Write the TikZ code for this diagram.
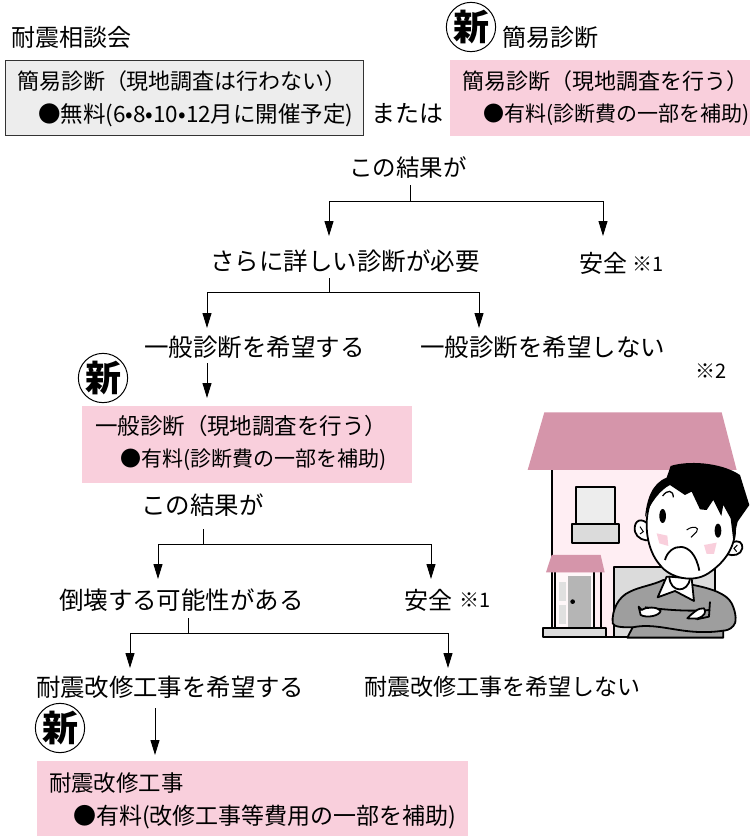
\documentclass[tikz,border=0pt]{standalone}
\usepackage{fontspec}
\setmainfont{Noto Sans CJK JP}
\definecolor{pinkbox}{HTML}{F9CFDC}
\definecolor{roofpink}{HTML}{D595AA}
\definecolor{wallpink}{HTML}{FFEEF3}
\usetikzlibrary{arrows.meta}
\tikzset{
 every node/.style={inner sep=0pt,outer sep=0pt,anchor=west,text=black},
 fs/.style={font=\fontsize{#1}{#1}\selectfont},
 pinkrect/.style={fill=pinkbox,draw=none},
 arr/.style={draw=black,line width=1pt,-{Stealth[length=15pt,width=9pt,inset=0pt]}},
 lin/.style={draw=black,line width=1pt},
 ln/.style={draw=black,line width=1.8pt,line join=round},
 newmark/.style={circle,draw=black,line width=1pt,minimum size=45pt,anchor=center,font=\fontsize{36}{36}\selectfont\bfseries},
}
\begin{document}
\begin{tikzpicture}[x=1pt,y=-1pt]
\useasboundingbox (0,0) rectangle (750,836);
\fill[white] (0,0) rectangle (750,836);
% boxes
\node[draw=black!80,fill=black!7,line width=1pt,minimum width=358pt,minimum height=75pt,anchor=north west] (b1) at (5,60) {};
\node[pinkrect,minimum width=300pt,minimum height=76pt,anchor=north west] (b2) at (450,60) {};
\node[pinkrect,minimum width=330pt,minimum height=77pt,anchor=north west] (b3) at (82,406) {};
\node[pinkrect,minimum width=431pt,minimum height=75pt,anchor=north west] (b4) at (37,761) {};
% titles
\node[fs=24] (t1) at (12,37) {耐震相談会};
\node[newmark] (n1) at (471,27) {新};
\node[fs=24] (t2) at (502,37) {簡易診断};
\node[fs=22] (b1a) at (17,81) {簡易診断（現地調査は行わない）};
\node[fs=22.5] (b1b) at (38,115) {●無料(6•8•10•12月に開催予定)};
\node[fs=24] (or) at (371,114) {または};
\node[fs=22] (b2a) at (462,81) {簡易診断（現地調査を行う）};
\node[fs=21] (b2b) at (483,115) {●有料(診断費の一部を補助)};
% flow texts
\node[fs=23.5] (r1) at (349,168) {この結果が};
\node[fs=24.5] (d1) at (210,261) {さらに詳しい診断が必要};
\node[fs=24] (s1) at (579,263) {安全};
\node[fs=20] (s1n) at (632,264) {※1};
\node[fs=24.5] (g1) at (144,347) {一般診断を希望する};
\node[fs=24.5] (g2) at (420,347) {一般診断を希望しない};
\node[fs=20] (n2) at (695,371) {※2};
\node[newmark] (n3) at (103,378) {新};
\node[fs=22.5] (b3a) at (95,426) {一般診断（現地調査を行う）};
\node[fs=21] (b3b) at (120,460) {●有料(診断費の一部を補助)};
\node[fs=24.5] (r2) at (141,505) {この結果が};
\node[fs=24.5] (c1) at (59,600) {倒壊する可能性がある};
\node[fs=24] (s2) at (404,600) {安全};
\node[fs=20] (s2n) at (459,600) {※1};
\node[fs=24.4] (k1) at (36,687) {耐震改修工事を希望する};
\node[fs=23] (k2) at (364,687) {耐震改修工事を希望しない};
\node[newmark] (n4) at (60,728) {新};
\node[fs=22.4] (b4a) at (49,783) {耐震改修工事};
\node[fs=23] (b4b) at (73,817) {●有料(改修工事等費用の一部を補助)};
% connectors
\draw[lin] (410,185) -- (410,201);
\draw[lin] (329,201) -- (603,201);
\draw[arr] (329,201) -- (329,236);
\draw[arr] (603,201) -- (603,236);
\draw[lin] (329,278) -- (329,292);
\draw[lin] (207,292) -- (479,292);
\draw[arr] (207,292) -- (207,328);
\draw[arr] (479,292) -- (479,328);
\draw[arr] (207,363) -- (207,398);
\draw[lin] (203,529) -- (203,544);
\draw[lin] (158,544) -- (431,544);
\draw[arr] (158,544) -- (158,579);
\draw[arr] (431,544) -- (431,579);
\draw[lin] (188,618) -- (188,633);
\draw[lin] (130,633) -- (448,633);
\draw[arr] (130,633) -- (130,668);
\draw[arr] (448,633) -- (448,668);
\draw[arr] (155,708) -- (155,755);
% house and man, in coordinates of a 3x crop
\begin{scope}[shift={(510,390)},x=0.3333pt,y=-0.3333pt]
\fill[wallpink] (125,240) rectangle (615,740);
\draw[ln] (125,240) -- (125,720);
\draw[ln] (100,741) -- (640,741);
\fill[roofpink] (103,67) -- (635,67) -- (680,240) -- (53,240) -- cycle;
\draw[ln,fill=black!7] (198,290) rectangle (316,402);
\draw[ln,fill=black!14] (186,402) rectangle (328,460);
\draw[ln,fill=black!14] (313,532) rectangle (616,741);
% door
\fill[wallpink!50!white] (135,548) rectangle (250,712);
\fill[black!29] (175,558) rectangle (243,712);
\fill[black!12] (148,577) rectangle (168,632);
\fill[black!12] (148,645) rectangle (168,702);
\fill[black] (188,635) circle (7);
\draw[ln] (125,547) -- (125,712);
\draw[ln] (136,547) -- (136,712);
\draw[ln] (252,547) -- (252,712);
\draw[ln] (274,547) -- (274,712);
\fill[roofpink] (125,495) -- (272,495) -- (284,547) -- (108,547) -- cycle;
\draw[ln,fill=black!14] (100,714) rectangle (288,742);
% sweater
\draw[ln,fill=black!38] (352,743) -- (368,712) .. controls (340,712) and (312,712) .. (308,700)
  .. controls (305,660) and (325,620) .. (360,605) .. controls (390,590) and (430,585) .. (460,570)
  -- (550,585) .. controls (600,595) and (650,610) .. (665,640) .. controls (680,670) and (680,700) .. (670,708)
  .. controls (660,720) and (645,722) .. (640,722) -- (640,743) -- cycle;
\draw[ln] (368,712) .. controls (450,695) and (520,740) .. (640,722);
\draw[ln] (405,652) .. controls (470,660) and (540,665) .. (600,660);
\draw[ln] (600,635) -- (597,680) -- (560,688);
\draw[ln,fill=white] (386,650) -- (395,660) .. controls (410,650) and (440,650) .. (452,662) .. controls (450,678) and (410,685) .. (392,675) -- cycle;
\draw[ln,fill=white] (532,685) .. controls (545,672) and (565,652) .. (582,655) .. controls (590,665) and (585,680) .. (560,686) -- cycle;
% collar
\draw[ln,fill=white] (470,560) -- (443,622) -- (495,603) -- (552,633) -- (545,565) -- cycle;
\draw[ln,fill=white] (478,560) .. controls (480,610) and (535,610) .. (540,565) -- cycle;
% ears
\draw[ln,fill=white] (410,398) .. controls (385,380) and (370,400) .. (375,425) .. controls (380,445) and (405,455) .. (422,450) -- cycle;
\draw[ln,fill=white] (665,460) .. controls (685,445) and (700,460) .. (697,475) .. controls (693,495) and (670,500) .. (650,492) -- cycle;
\draw[line width=1pt] (390,410) -- (400,425) -- (390,432);
\draw[line width=1pt] (682,465) -- (672,475) -- (680,485);
% face
\draw[ln,fill=white] (420,340) .. controls (400,400) and (410,480) .. (450,525)
  .. controls (480,565) and (550,580) .. (595,550) .. controls (640,520) and (670,480) .. (675,430)
  .. controls (680,370) and (640,280) .. (540,270) .. controls (480,265) and (435,290) .. (420,340) -- cycle;
% hair
\fill[black] (405,382) .. controls (410,330) and (425,280) .. (470,263) -- (482,228)
  .. controls (530,212) and (630,215) .. (690,255) -- (718,345) -- (683,395) -- (670,452)
  -- (662,385) -- (640,345) -- (634,378) -- (610,330) -- (590,360) -- (570,358) -- (545,305) -- (525,315) -- (480,285)
  .. controls (450,300) and (420,340) .. (405,382) -- cycle;
\draw[black,line width=1.3pt] (458,318) .. controls (472,298) and (490,300) .. (490,322);
% features
\fill[black] (458,378) ellipse [x radius=10,y radius=21];
\fill[black] (624,422) ellipse [x radius=10,y radius=21];
\draw[line width=1pt] (530,420) .. controls (550,405) and (570,412) .. (560,425) .. controls (555,432) and (548,436) .. (543,442);
\draw[ln] (465,510) .. controls (478,460) and (550,445) .. (568,542);
\fill[pinkbox] (440,430) -- (472,437) -- (475,468) -- (448,460) -- cycle;
\fill[pinkbox] (582,465) -- (620,458) -- (612,492) -- (590,492) -- cycle;
\end{scope}
\end{tikzpicture}
\end{document}
